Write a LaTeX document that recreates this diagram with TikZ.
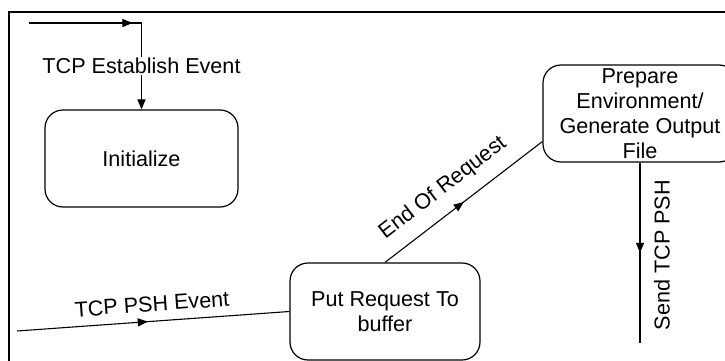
\documentclass[tikz,border=0pt]{standalone}
\usepackage{fontspec}
\setmainfont{Liberation Sans}
\usetikzlibrary{arrows.meta,decorations.markings}

\tikzset{
  state/.style={draw, line width=1.2pt, rounded corners=18pt, align=center,
    minimum width=193pt, minimum height=97pt, inner sep=1pt,
    font=\fontsize{21.6}{25}\selectfont},
  flow/.style={line width=1.1pt},
  lbl/.style={font=\fontsize{21.6}{25}\selectfont, inner sep=1pt},
  midarrow/.style={postaction={decorate, decoration={markings,
    mark=at position #1 with {\arrow{Triangle[length=10pt,width=8pt]}}}}}
}

\begin{document}
\begin{tikzpicture}[x=1pt, y=-1pt, >={Triangle[length=10pt,width=8pt]}]
  \clip (0,0) rectangle (725,361);

  % Frame
  \draw[line width=1.4pt] (9,361) -- (9,12) -- (725,12);

  % States
  \node[state] (init) at (141.5,158.5) {Initialize};
  \node[state, minimum width=190pt] (putreq) at (385,311.5) {Put Request To\\buffer};
  \node[state, minimum width=194pt] (prepare) at (640,113.5)
    {Prepare\\Environment/\\Generate Output\\File};

  % Free ends
  \coordinate (estart) at (29,23);
  \coordinate (pshstart) at (17,331);
  \coordinate (sendend) at (640,343);

  % Transitions
  \draw[flow, ->, midarrow=0.52] (estart) -- (estart -| init.north)
    -- node[lbl, fill=white, pos=0.5] (lblest) {TCP Establish Event} (init.north);
  \draw[flow, midarrow=0.48] (pshstart) -- node[lbl, sloped, above=8pt, pos=0.5] (lblpsh) {TCP PSH Event} (putreq.west);
  \draw[flow, midarrow=0.5] (putreq.north) -- node[lbl, sloped, above=12pt, pos=0.46] (lblend) {End Of Request} ([yshift=-28pt]prepare.west);
  \draw[flow, midarrow=0.5] (prepare.south) -- (sendend);
  \node[lbl, rotate=90] (lblsend) at (662,255) {Send TCP PSH};
\end{tikzpicture}
\end{document}
